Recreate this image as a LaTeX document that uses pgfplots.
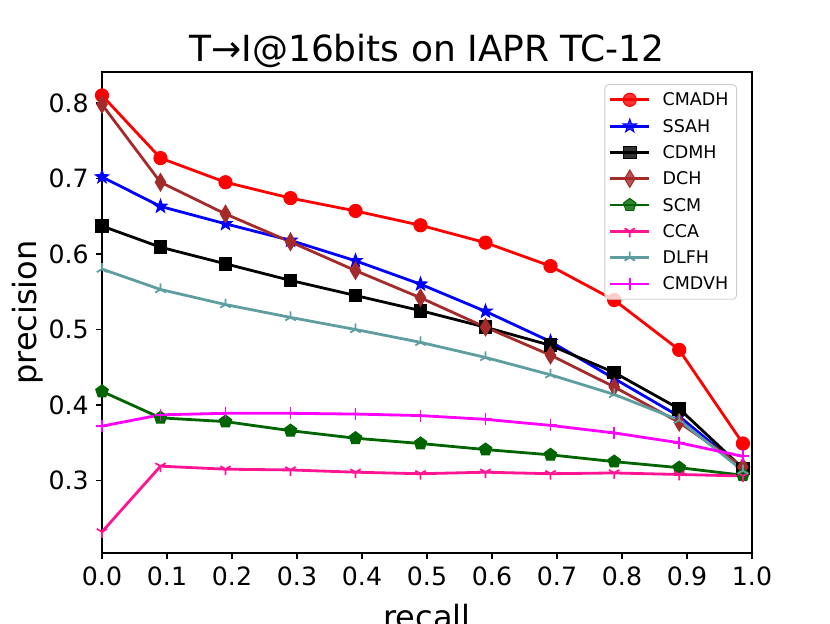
\documentclass[border=0pt]{standalone}
\usepackage{fontspec}
\setmainfont{DejaVu Sans}
\usepackage{pgfplots}
\usepackage{pgfplotstable}
\pgfplotsset{compat=1.18}
\usetikzlibrary{plotmarks}

\definecolor{dchc}{HTML}{A52A2A}
\definecolor{scmc}{HTML}{006400}
\definecolor{ccac}{HTML}{FF1493}
\definecolor{dlfhc}{HTML}{5F9EA0}
\definecolor{cmdvhc}{HTML}{FF00FF}

\pgfdeclareplotmark{fstar}{%
  \pgfpathmoveto{\pgfpointpolar{90}{1.35\pgfplotmarksize}}%
  \pgfpathlineto{\pgfpointpolar{126}{0.55\pgfplotmarksize}}%
  \pgfpathlineto{\pgfpointpolar{162}{1.35\pgfplotmarksize}}%
  \pgfpathlineto{\pgfpointpolar{198}{0.55\pgfplotmarksize}}%
  \pgfpathlineto{\pgfpointpolar{234}{1.35\pgfplotmarksize}}%
  \pgfpathlineto{\pgfpointpolar{270}{0.55\pgfplotmarksize}}%
  \pgfpathlineto{\pgfpointpolar{306}{1.35\pgfplotmarksize}}%
  \pgfpathlineto{\pgfpointpolar{342}{0.55\pgfplotmarksize}}%
  \pgfpathlineto{\pgfpointpolar{18}{1.35\pgfplotmarksize}}%
  \pgfpathlineto{\pgfpointpolar{54}{0.55\pgfplotmarksize}}%
  \pgfpathclose
  \pgfusepathqfillstroke}

\pgfdeclareplotmark{tdiamond}{%
  \pgfpathmoveto{\pgfqpoint{0pt}{1.45\pgfplotmarksize}}%
  \pgfpathlineto{\pgfqpoint{0.87\pgfplotmarksize}{0pt}}%
  \pgfpathlineto{\pgfqpoint{0pt}{-1.45\pgfplotmarksize}}%
  \pgfpathlineto{\pgfqpoint{-0.87\pgfplotmarksize}{0pt}}%
  \pgfpathclose
  \pgfusepathqfillstroke}

\pgfplotstableread{
x     cmadh ssah  cdmh  dch   scm   cca   dlfh  cmdvh
0     0.810 0.702 0.637 0.798 0.418 0.232 0.580 0.372
0.09  0.727 0.663 0.609 0.695 0.383 0.319 0.553 0.387
0.19  0.695 0.640 0.587 0.653 0.378 0.315 0.533 0.389
0.29  0.674 0.618 0.565 0.616 0.366 0.314 0.516 0.389
0.39  0.657 0.591 0.545 0.578 0.356 0.311 0.500 0.388
0.49  0.638 0.560 0.525 0.542 0.349 0.309 0.483 0.386
0.59  0.615 0.524 0.503 0.503 0.341 0.311 0.463 0.381
0.69  0.584 0.484 0.479 0.466 0.334 0.309 0.440 0.373
0.788 0.539 0.435 0.443 0.424 0.325 0.310 0.414 0.363
0.888 0.473 0.385 0.395 0.377 0.317 0.308 0.380 0.350
0.986 0.349 0.315 0.316 0.318 0.307 0.306 0.313 0.332
}\datatable

\begin{document}
\begin{tikzpicture}
\path[use as bounding box] (0,0) rectangle (415pt,311.5pt);
\begin{axis}[
  at={(51pt,35pt)}, anchor=south west,
  scale only axis, width=325pt, height=240.5pt,
  xmin=0, xmax=1, ymin=0.204, ymax=0.841,
  xtick={0,0.1,...,1.0},
  ytick={0.3,0.4,0.5,0.6,0.7,0.8},
  xtick pos=bottom, ytick pos=left,
  tick align=outside,
  major tick length=3.15pt,
  tick style={black, line width=0.72pt},
  axis line style={black, line width=0.72pt},
  /pgf/number format/.cd, fixed, fixed zerofill, precision=1, assume math mode=true,
  /pgfplots/.cd,
  ticklabel style={font=\fontsize{12.6}{14}\selectfont},
  title={T→I@16bits on IAPR TC-12},
  title style={at={(axis description cs:0.5,1)}, anchor=base, yshift=-0.8pt, font=\fontsize{18}{20}\selectfont},
  xlabel={recall},
  xlabel style={at={(axis description cs:0.5,0)}, anchor=base, yshift=-37.5pt, font=\fontsize{16}{18}\selectfont},
  ylabel={precision},
  ylabel style={at={(axis description cs:-0.1138,0.5)}, anchor=center, font=\fontsize{16}{18}\selectfont},
  legend style={at={(rel axis cs:1,1)}, anchor=north east, xshift=-7.5pt, yshift=-6pt,
    draw=black!20, rounded corners=2pt, fill=white, fill opacity=0.8, text opacity=1,
    font=\fontsize{8.75}{10}\selectfont, inner xsep=2pt, inner ysep=1.2pt,
    nodes={inner sep=2pt, text depth=0.15em, text height=0.75em},
    row sep=0.15pt, column sep=4pt},
  legend cell align=left,
  legend image code/.code={\draw[mark repeat=2, mark phase=2] plot coordinates {(0pt,0pt) (9.75pt,0pt) (19.5pt,0pt)};},
  every axis plot/.append style={line width=1.4pt},
]
\addplot[red, mark=*, mark size=3.3pt, mark options={solid, fill=red, line width=0.5pt}] table[x=x, y=cmadh] {\datatable};
\addlegendentry{CMADH}
\addplot[blue, mark=fstar, mark size=2.6pt, mark options={solid, fill=blue, line width=0.5pt}] table[x=x, y=ssah] {\datatable};
\addlegendentry{SSAH}
\addplot[black, mark=square*, mark size=3.2pt, mark options={solid, fill=black, line width=0.5pt}] table[x=x, y=cdmh] {\datatable};
\addlegendentry{CDMH}
\addplot[dchc, mark=tdiamond, mark size=3pt, mark options={solid, fill=dchc, line width=0.5pt}] table[x=x, y=dch] {\datatable};
\addlegendentry{DCH}
\addplot[scmc, mark=pentagon*, mark size=3.3pt, mark options={solid, fill=scmc, line width=0.5pt}] table[x=x, y=scm] {\datatable};
\addlegendentry{SCM}
\addplot[ccac, mark=Mercedes star flipped, mark size=3pt, mark options={solid, line width=0.9pt}] table[x=x, y=cca] {\datatable};
\addlegendentry{CCA}
\addplot[dlfhc, mark=Mercedes star, mark size=3pt, mark options={solid, line width=0.9pt}] table[x=x, y=dlfh] {\datatable};
\addlegendentry{DLFH}
\addplot[cmdvhc, mark=+, mark size=3pt, mark options={solid, line width=0.9pt}] table[x=x, y=cmdvh] {\datatable};
\addlegendentry{CMDVH}
\end{axis}
\end{tikzpicture}
\end{document}
